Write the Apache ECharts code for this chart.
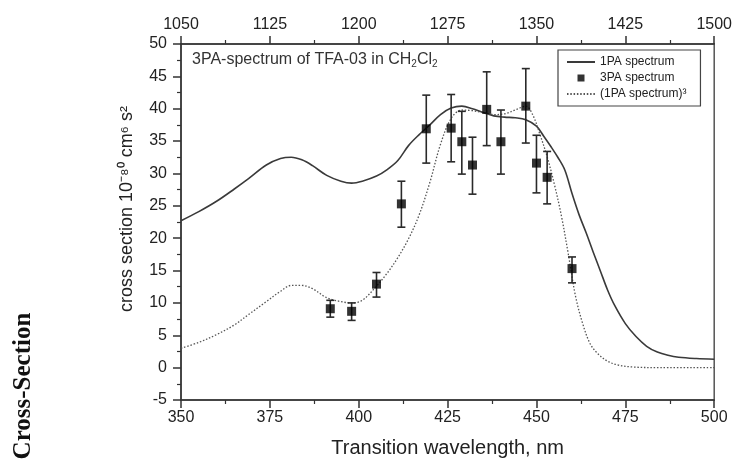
<!DOCTYPE html>
<html>
<head>
<meta charset="utf-8">
<style>
  html, body { margin: 0; padding: 0; background: #fff; }
  #chart { width: 735px; height: 463px; }
</style>
<script src="https://cdn.jsdelivr.net/npm/echarts@6/dist/echarts.min.js"></script>
</head>
<body>
<div id="chart"></div>
<script>
// One-photon absorption spectrum (wavelength, nm -> cross section)
const onePaWavelength = [350, 355, 360, 365, 369, 374, 378, 381, 384, 387, 391, 395, 398, 401, 405, 408, 411, 414, 417, 420, 423, 426, 429, 432, 435, 438, 441, 444, 447, 450, 452, 454, 456, 458, 460, 462, 464, 466, 468, 470, 472, 475, 478, 481, 484, 487, 490, 495, 500];
const onePaValues = [22.7, 24.1, 25.7, 27.6, 29.2, 31.3, 32.3, 32.5, 32.1, 31.2, 29.7, 28.8, 28.5, 28.8, 29.6, 30.6, 32.0, 34.3, 36.0, 37.5, 39.1, 40.1, 40.4, 40.0, 39.4, 38.9, 38.7, 38.6, 38.3, 37.3, 35.8, 34.2, 32.5, 30.5, 26.9, 23.6, 20.8, 17.8, 14.9, 12.0, 9.6, 6.8, 4.8, 3.3, 2.4, 1.9, 1.6, 1.4, 1.3];

// Cubed 1PA spectrum
const cubedWavelength = [350, 355, 360, 365, 369, 374, 378, 381, 384, 387, 391, 395, 398, 401, 405, 408, 411, 414, 417, 420, 423, 426, 429, 432, 435, 438, 441, 444, 447, 449, 451, 453, 455, 457, 459, 461, 463, 465, 467, 470, 473, 477, 485, 500];
const cubedValues = [3.0, 3.9, 5.1, 6.6, 8.2, 10.2, 11.8, 12.7, 12.7, 12.2, 10.8, 10.2, 10.0, 10.4, 12.6, 14.6, 17.0, 19.9, 23.6, 28.6, 34.5, 38.5, 39.8, 39.7, 39.4, 39.1, 39.2, 39.8, 40.4, 39.0, 36.0, 32.6, 28.4, 23.5, 17.4, 11.0, 6.8, 3.8, 2.3, 1.0, 0.4, 0.1, 0.0, 0.0];

// Measured three-photon cross sections with error limits
const threePaWavelength = [392, 398, 405, 412, 419, 426, 429, 432, 436, 440, 447, 450, 453, 460];
const threePaValues = [9.1, 8.7, 12.9, 25.3, 36.9, 37.0, 34.9, 31.3, 39.9, 34.9, 40.4, 31.6, 29.4, 15.3];
const threePaLow = [7.8, 7.3, 10.9, 21.7, 31.6, 31.8, 29.9, 26.8, 34.3, 29.9, 34.7, 27.0, 25.3, 13.1];
const threePaHigh = [10.4, 10.0, 14.7, 28.8, 42.1, 42.2, 39.6, 35.6, 45.7, 39.8, 46.2, 35.9, 33.4, 17.1];

// Axis settings
const bottomTicks = { min: 350, max: 500, interval: 25 };
const topTicks = { min: 1050, max: 1500, interval: 75 };
const yTicks = { min: -5, max: 50, interval: 5 };

const zip = (a, b) => a.map((v, i) => [v, b[i]]);
const FONT = '"Liberation Sans", Arial, Helvetica, sans-serif';
const INK = '#333';

const axisCommon = {
  type: 'value',
  axisLine: { show: true, onZero: false, lineStyle: { color: INK, width: 1.5 } },
  axisTick: { show: true, inside: false, length: 8, lineStyle: { color: INK, width: 1.5 } },
  minorTick: { show: true, splitNumber: 2, length: 4, lineStyle: { color: INK, width: 1.2 } },
  splitLine: { show: false },
  axisLabel: { color: '#222', fontFamily: FONT, fontSize: 16, formatter: v => String(v) }
};

// Legend marker for the measured points: a 7px square centred in the 28x8 icon box
const squareIcon = 'path://M0,0L0.01,0.01L0,0.01ZM28,8L27.99,7.99L28,7.99ZM10.5,0.5L17.5,0.5L17.5,7.5L10.5,7.5Z';

const chart = echarts.init(document.getElementById('chart'), null, { renderer: 'canvas' });

chart.setOption({
  backgroundColor: '#fff',
  animation: false,
  title: {
    text: '{m|3PA-spectrum of TFA-03 in CH}{s|2}{m|Cl}{s|2}',
    left: 192, top: 51, padding: 0,
    textStyle: {
      fontWeight: 'normal',
      rich: {
        m: { fontFamily: FONT, fontSize: 16, fontWeight: 'normal', color: '#333', lineHeight: 18 },
        s: { fontFamily: FONT, fontSize: 10, fontWeight: 'normal', color: '#333', lineHeight: 6, verticalAlign: 'bottom' }
      }
    }
  },
  grid: {
    left: 181, right: 20, top: 44, bottom: 61,
    show: true, borderColor: '#555', borderWidth: 1.5, containLabel: false
  },
  legend: {
    orient: 'vertical',
    left: 558, top: 50,
    padding: [5, 14, 5, 8],
    itemGap: 2,
    itemWidth: 28, itemHeight: 8,
    borderColor: '#444', borderWidth: 1.2,
    textStyle: { fontFamily: FONT, fontSize: 12, color: '#222', lineHeight: 14 },
    data: [
      { name: '1PA spectrum', itemStyle: { opacity: 0 } },
      { name: '3PA spectrum', icon: squareIcon },
      { name: '(1PA spectrum)\u00b3', itemStyle: { opacity: 0 } }
    ]
  },
  xAxis: [
    Object.assign({}, axisCommon, bottomTicks, {
      position: 'bottom',
      name: 'Transition wavelength, nm',
      nameLocation: 'middle', nameGap: 38,
      nameTextStyle: { fontFamily: FONT, fontSize: 20, color: '#222' },
      axisLabel: Object.assign({}, axisCommon.axisLabel, { margin: 10 })
    }),
    Object.assign({}, axisCommon, topTicks, {
      position: 'top',
      axisLabel: Object.assign({}, axisCommon.axisLabel, { margin: 11 })
    })
  ],
  yAxis: Object.assign({}, axisCommon, yTicks, {
    position: 'left',
    name: 'cross section 10\u207b\u2078\u2070 cm\u2076 s\u00b2',
    nameLocation: 'middle', nameGap: 45, nameRotate: 90,
    nameTextStyle: { fontFamily: FONT, fontSize: 18, color: '#222', padding: [0, 0, 0, 26] },
    axisLabel: Object.assign({}, axisCommon.axisLabel, { margin: 14 })
  }),
  graphic: [{
    type: 'text',
    x: 24, y: 386,
    rotation: Math.PI / 2,
    style: {
      text: 'Cross-Section',
      fontFamily: '"Liberation Serif", "Times New Roman", serif',
      fontWeight: 'bold', fontSize: 25,
      fill: '#111', textAlign: 'center', textVerticalAlign: 'middle'
    }
  }],
  series: [
    {
      name: '1PA spectrum',
      type: 'line',
      xAxisIndex: 0,
      data: zip(onePaWavelength, onePaValues),
      smooth: 0.35,
      symbol: 'none',
      lineStyle: { color: '#3a3a3a', width: 1.6 },
      itemStyle: { color: '#3a3a3a' },
      z: 3
    },
    {
      name: '3PA spectrum errors',
      type: 'custom',
      xAxisIndex: 0,
      data: threePaWavelength.map((x, i) => [x, threePaLow[i], threePaHigh[i]]),
      encode: { x: 0, y: [1, 2] },
      renderItem: function (params, api) {
        const x = api.value(0);
        const lo = api.coord([x, api.value(1)]);
        const hi = api.coord([x, api.value(2)]);
        const cap = 4;
        const style = { stroke: '#2a2a2a', lineWidth: 1.6 };
        return {
          type: 'group',
          children: [
            { type: 'line', shape: { x1: lo[0], y1: lo[1], x2: hi[0], y2: hi[1] }, style: style },
            { type: 'line', shape: { x1: hi[0] - cap, y1: hi[1], x2: hi[0] + cap, y2: hi[1] }, style: style },
            { type: 'line', shape: { x1: lo[0] - cap, y1: lo[1], x2: lo[0] + cap, y2: lo[1] }, style: style }
          ]
        };
      },
      z: 4
    },
    {
      name: '3PA spectrum',
      type: 'scatter',
      xAxisIndex: 0,
      data: zip(threePaWavelength, threePaValues),
      symbol: 'rect',
      symbolSize: 9,
      itemStyle: { color: '#000' },
      z: 5
    },
    {
      name: '(1PA spectrum)\u00b3',
      type: 'line',
      xAxisIndex: 0,
      data: zip(cubedWavelength, cubedValues),
      smooth: 0.35,
      symbol: 'none',
      lineStyle: { color: '#555', width: 1.3, type: [1.5, 1.8] },
      itemStyle: { color: '#555' },
      z: 3
    }
  ]
});
</script>
</body>
</html>
